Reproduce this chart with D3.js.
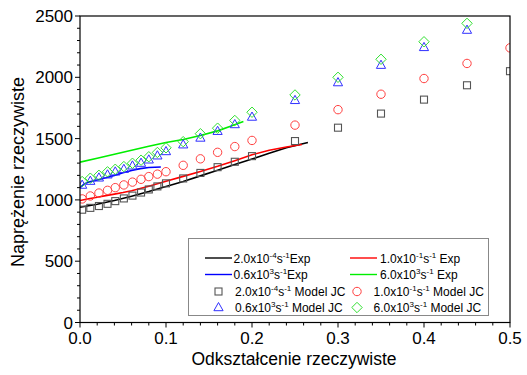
<!DOCTYPE html>
<html><head><meta charset="utf-8">
<script src="https://cdn.jsdelivr.net/npm/d3@7"></script>
<style>body{margin:0;background:#fff;} svg{display:block;font-family:"Liberation Sans",Arial,sans-serif;}</style>
</head><body><svg id="c" width="527" height="375"></svg>
<script>
// ---- data ----
const xTicks = [0.0, 0.1, 0.2, 0.3, 0.4, 0.5];
const yTicks = [0, 500, 1000, 1500, 2000, 2500];
const xTitle = "Odkształcenie rzeczywiste";
const yTitle = "Naprężenie rzeczywiste";

const expBlack = [[0,940],[0.02,965],[0.04,995],[0.06,1030],[0.08,1068],[0.1,1110],[0.12,1150],[0.14,1196],[0.16,1242],[0.18,1288],[0.2,1333],[0.22,1380],[0.24,1425],[0.265,1468]];
const expRed = [[0,995],[0.01,1010],[0.02,1022],[0.03,1035],[0.04,1047],[0.05,1060],[0.06,1075],[0.07,1093],[0.08,1112],[0.09,1132],[0.1,1152],[0.12,1192],[0.14,1232],[0.16,1274],[0.18,1320],[0.2,1368],[0.22,1405],[0.24,1432],[0.258,1452]];
const expBlue = [[0,1100],[0.005,1130],[0.01,1145],[0.02,1162],[0.03,1180],[0.04,1200],[0.05,1222],[0.06,1240],[0.07,1255],[0.08,1264],[0.094,1268]];
const expGreen = [[0,1308],[0.02,1340],[0.04,1372],[0.06,1405],[0.08,1438],[0.1,1468],[0.12,1493],[0.14,1525],[0.16,1563],[0.175,1600],[0.19,1640]];

const modelStrain = [0.0025,0.012,0.022,0.032,0.041,0.051,0.061,0.071,0.080,0.090,0.100,0.12,0.14,0.16,0.18,0.20,0.25,0.30,0.35,0.40,0.45,0.50];
const modelSquare = [920,935,950,968,990,1012,1035,1060,1085,1110,1135,1175,1220,1267,1311,1357,1480,1589,1704,1818,1935,2050];
const modelCircle = [1008,1032,1056,1078,1100,1122,1145,1168,1190,1210,1230,1282,1335,1388,1435,1485,1610,1736,1862,1990,2113,2240];
const modelTriangle = [1121,1153,1180,1205,1229,1250,1278,1300,1327,1360,1395,1450,1505,1560,1615,1676,1812,1957,2099,2244,2385,2530];
const modelDiamond = [1150,1177,1201,1229,1250,1272,1299,1324,1352,1387,1425,1475,1540,1585,1648,1715,1856,2000,2147,2290,2440,2590];

const legendExp = [
  [["2.0x10",0],["-4",1],["s",0],["-1",1],["Exp",0]],
  [["1.0x10",0],["-1",1],["s",0],["-1",1],[" Exp",0]],
  [["0.6x10",0],["3",1],["s",0],["-1",1],["Exp",0]],
  [["6.0x10",0],["3",1],["s",0],["-1",1],[" Exp",0]]
];
const legendModel = [
  [["2.0x10",0],["-4",1],["s",0],["-1",1],[" Model JC",0]],
  [["1.0x10",0],["-1",1],["s",0],["-1",1],[" Model JC",0]],
  [["0.6x10",0],["3",1],["s",0],["-1",1],[" Model JC",0]],
  [["6.0x10",0],["3",1],["s",0],["-1",1],[" Model JC",0]]
];

// ---- drawing ----
const svg = d3.select("#c");
const L = 80, R = 510, T = 16, B = 322.5;
const x = d3.scaleLinear().domain([0,0.5]).range([L,R]);
const y = d3.scaleLinear().domain([0,2500]).range([B,T]);

svg.append("defs").append("clipPath").attr("id","clip")
  .append("rect").attr("x",L).attr("y",T).attr("width",R-L).attr("height",B-T);

const lineColors = ["#000000","#ff0000","#0000ff","#00ee00"];
const markColors = ["#555555","#ff4040","#3030ff","#30e030"];
const plot = svg.append("g").attr("clip-path","url(#clip)");

const line = d3.line().x(d=>x(d[0])).y(d=>y(d[1]));
[expBlack, expRed, expBlue, expGreen].forEach((s,i)=>{
  plot.append("path").attr("d",line(s)).attr("fill","none")
    .attr("stroke",lineColors[i]).attr("stroke-width",1.6);
});

function marker(g, type, cx, cy, col){
  if(type===0) g.append("rect").attr("x",cx-3.5).attr("y",cy-3.5).attr("width",7).attr("height",7)
      .attr("fill","none").attr("stroke",col).attr("stroke-width",1.1);
  else if(type===1) g.append("circle").attr("cx",cx).attr("cy",cy).attr("r",4.2)
      .attr("fill","none").attr("stroke",col).attr("stroke-width",1);
  else if(type===2) g.append("path").attr("d",`M${cx},${cy-5}L${cx+4.6},${cy+3.2}L${cx-4.6},${cy+3.2}Z`)
      .attr("fill","none").attr("stroke",col).attr("stroke-width",1);
  else g.append("path").attr("d",`M${cx},${cy-5.2}L${cx+5.2},${cy}L${cx},${cy+5.2}L${cx-5.2},${cy}Z`)
      .attr("fill","none").attr("stroke",col).attr("stroke-width",1);
}
[modelSquare, modelCircle, modelTriangle, modelDiamond].forEach((vals,i)=>{
  vals.forEach((v,j)=>marker(plot,i,x(modelStrain[j]),y(v),markColors[i]));
});

// axes
const ax = svg.append("g").attr("stroke","#000").attr("fill","none");
ax.append("rect").attr("x",L).attr("y",T).attr("width",R-L).attr("height",B-T).attr("stroke-width",1.2);
const xMinor = d3.range(0,0.5001,0.02);
xMinor.forEach(t=>{
  const major = Math.abs(t*10-Math.round(t*10))<1e-6;
  ax.append("line").attr("x1",x(t)).attr("x2",x(t)).attr("y1",B).attr("y2",B+(major?5:3));
});
const yMinor = d3.range(0,2501,100);
yMinor.forEach(t=>{
  const major = t%500===0;
  ax.append("line").attr("y1",y(t)).attr("y2",y(t)).attr("x1",L).attr("x2",L-(major?5:3));
});
svg.append("g").selectAll("text").data(xTicks).join("text")
  .attr("x",d=>x(d)).attr("y",344).attr("text-anchor","middle").attr("font-size",17)
  .text(d=>d.toFixed(1));
svg.append("g").selectAll("text").data(yTicks).join("text")
  .attr("x",73).attr("y",d=>y(d)+6).attr("text-anchor","end").attr("font-size",17)
  .text(d=>d);
svg.append("text").attr("x",294).attr("y",365).attr("text-anchor","middle").attr("font-size",17.5).text(xTitle);
svg.append("text").attr("transform","translate(24,172) rotate(-90)").attr("text-anchor","middle").attr("font-size",18).text(yTitle);

// legend
const lg = svg.append("g");
lg.append("rect").attr("x",188.5).attr("y",238.5).attr("width",300).attr("height",77)
  .attr("fill","#fff").attr("stroke","#888").attr("stroke-width",1);
const rowsY = [258,274.5,291.5,307.5];
const colLine = [[205,232],[350,377]];
const colText = [233.5,380];
function richText(g, tx, ty, parts){
  const t = g.append("text").attr("x",tx).attr("y",ty+4.5).attr("font-size",12);
  let inSup=false;
  parts.forEach(p=>{
    const ts = t.append("tspan").text(p[0]);
    if(p[1]){ ts.attr("font-size",8).attr("dy", inSup?0:-5); inSup=true; }
    else { ts.attr("dy", inSup?5:0); inSup=false; }
  });
}
legendExp.forEach((parts,i)=>{
  const col = i%2, row = Math.floor(i/2);
  lg.append("line").attr("x1",colLine[col][0]).attr("x2",colLine[col][1])
    .attr("y1",rowsY[row]).attr("y2",rowsY[row]).attr("stroke",lineColors[i]).attr("stroke-width",1.4);
  richText(lg, colText[col], rowsY[row], parts);
});
const markX = [218.5, 357];
const modelText = [235, 373.5];
legendModel.forEach((parts,i)=>{
  const col = i%2, row = 2+Math.floor(i/2);
  marker(lg, i, markX[col], rowsY[row], markColors[i]);
  richText(lg, modelText[col], rowsY[row], parts);
});
</script></body></html>
